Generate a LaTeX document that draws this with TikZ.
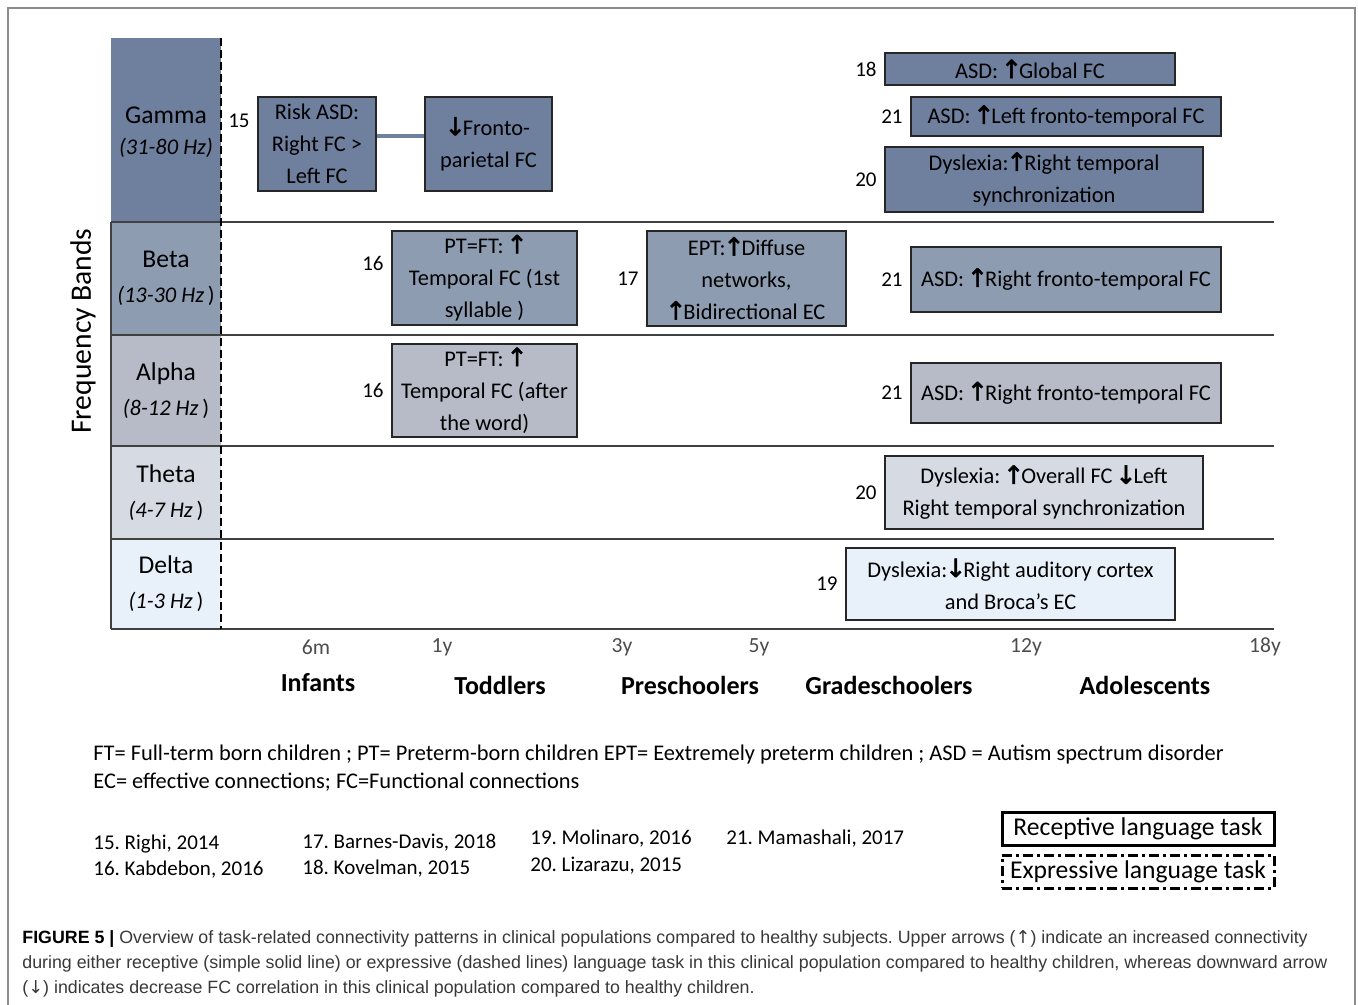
\documentclass[tikz,border=0pt]{standalone}
\usepackage{fontspec}
\setmainfont{Carlito}
\newfontfamily\arrowfont[FakeBold=2]{DejaVu Sans}
\newfontfamily\thinarrow{DejaVu Sans}
\newfontfamily\capfont{Liberation Sans}
\usetikzlibrary{positioning}
\frenchspacing

\definecolor{gammac}{HTML}{6F7F9E}
\definecolor{betac}{HTML}{8E9CB1}
\definecolor{alphac}{HTML}{B6BBC7}
\definecolor{thetac}{HTML}{D6DAE3}
\definecolor{deltac}{HTML}{E8F1FA}
\definecolor{rulec}{HTML}{404040}

\newcommand{\UpA}{{\kern-0.1em\arrowfont\fontsize{12.6pt}{16pt}\selectfont\char"2191\kern-0.12em}}
\newcommand{\DnA}{{\kern-0.1em\arrowfont\fontsize{12.6pt}{16pt}\selectfont\char"2193\kern-0.12em}}

\begin{document}
\begin{tikzpicture}[x=0.5pt, y=-0.5pt, node distance=3.5pt,
    band/.style = {fill=#1, minimum width=55pt, inner sep=0pt, align=center, font=\fontsize{12.8pt}{17.5pt}\selectfont},
    finding/.style 2 args = {draw=black!85, line width=1pt, minimum width=#1*0.5pt, minimum height=#2*0.5pt, inner sep=0pt, align=center, font=\fontsize{11.2pt}{16pt}\selectfont},
    refno/.style = {inner sep=0pt, font=\fontsize{10.5pt}{12pt}\selectfont},
    rule/.style = {rulec, line width=1pt},
    tick/.style = {black!70, font=\fontsize{10.8pt}{12pt}\selectfont},
    group/.style = {font=\fontsize{13pt}{14pt}\selectfont\bfseries},
    note/.style = {anchor=west, inner sep=0pt, align=left, font=\fontsize{10.5pt}{14pt}\selectfont},
    legend/.style = {draw, line width=1.5pt, minimum width=136pt, minimum height=16.5pt, inner sep=0pt, font=\fontsize{12.8pt}{14pt}\selectfont}]

    \useasboundingbox (0,0) rectangle (1358,1005);
    \draw[black!45, line width=0.8pt] (8,1005) -- (8,8) -- (1355,8) -- (1355,1005);

    \node[band=gammac, minimum height=92pt]   (gamma) at (166,132)   {Gamma\\[-2pt]{\fontsize{11.2pt}{14pt}\selectfont\textit{(31-80 Hz)}}};
    \node[band=betac,  minimum height=56.5pt] (beta)  at (166,278.5) {Beta\\{\fontsize{11.2pt}{14pt}\selectfont\textit{(13-30 Hz}\,)}};
    \node[band=alphac, minimum height=55.5pt] (alpha) at (166,390.5) {Alpha\\{\fontsize{11.2pt}{14pt}\selectfont\textit{(8-12 Hz}\,)}};
    \node[band=thetac, minimum height=46.5pt] (theta) at (166,492.5) {Theta\\{\fontsize{11.2pt}{14pt}\selectfont\textit{(4-7 Hz}\,)}};
    \node[band=deltac, minimum height=45pt]   (delta) at (166,584)   {Delta\\{\fontsize{11.2pt}{14pt}\selectfont\textit{(1-3 Hz}\,)}};
    \path[fill=gammac] (111,38) rectangle (221,48);

    \foreach \y in {222,335,446,539,629}
        \draw[rule] (111,\y) -- (1274,\y);
    \draw[rule] (111,222) -- (111,629);
    \draw[line width=1pt, dash pattern=on 4pt off 2pt] (221,38) -- (221,629);

    \node[rotate=90, font=\fontsize{14.8pt}{16pt}\selectfont] (axis) at (83,331) {Frequency Bands};

    \node[finding={118}{94}, fill=gammac] (r15) at (317,144)    {Risk ASD:\\Right FC >\\Left FC};
    \node[finding={127}{94}, fill=gammac] (fp)  at (488.5,144)  {\DnA Fronto-\\parietal FC};
    \node[finding={290}{32}, fill=gammac] (g18) at (1030,69)    {ASD: \UpA Global FC};
    \node[finding={310}{39}, fill=gammac] (g21) at (1066,116.5) {ASD: \UpA Left fronto-temporal FC};
    \node[finding={318}{65}, fill=gammac] (g20) at (1044,179.5) {Dyslexia:\UpA Right temporal\\synchronization};

    \node[finding={185}{94}, fill=betac] (b16) at (484.5,278)  {PT=FT: \UpA\\Temporal FC (1st\\syllable )};
    \node[finding={199}{95}, fill=betac] (b17) at (746.5,278.5) {EPT:\UpA Diffuse\\networks,\\\UpA Bidirectional EC};
    \node[finding={310}{65}, fill=betac] (b21) at (1066,279.5)  {ASD: \UpA Right fronto-temporal FC};

    \node[finding={185}{93}, fill=alphac] (a16) at (484.5,390.5) {PT=FT: \UpA\\Temporal FC (after\\the word)};
    \node[finding={310}{60}, fill=alphac] (a21) at (1066,393)    {ASD: \UpA Right fronto-temporal FC};

    \node[finding={318}{73}, fill=thetac] (t20) at (1044,492.5) {Dyslexia: \UpA Overall FC \DnA Left\\Right temporal synchronization};

    \node[finding={329}{72}, fill=deltac] (d19) at (1010.5,584) {Dyslexia:\DnA Right auditory cortex\\and Broca's EC};

    \draw[gammac, line width=2pt] ([yshift=4pt]r15.east) -- ([yshift=4pt]fp.west);

    \node[refno] (n15)  [left=of r15, yshift=11.5pt] {15};
    \node[refno] (n18)  [left=of g18] {18};
    \node[refno] (n21g) [left=of g21] {21};
    \node[refno] (n20g) [left=of g20] {20};
    \node[refno] (n16b) [left=of b16, yshift=7.5pt] {16};
    \node[refno] (n17)  [left=of b17] {17};
    \node[refno] (n21b) [left=of b21] {21};
    \node[refno] (n16a) [left=of a16] {16};
    \node[refno] (n21a) [left=of a21] {21};
    \node[refno] (n20t) [left=of t20] {20};
    \node[refno] (n19)  [left=of d19] {19};

    \foreach \t/\x in {6m/316, 1y/442, 3y/622, 5y/759, 12y/1026, 18y/1265}
        \node[tick] (t\t) at (\x,647) {\t};
    \foreach \g/\x/\y in {Infants/318/683, Toddlers/500/685, Preschoolers/690/685, Gradeschoolers/889/685, Adolescents/1145/685}
        \node[group] (\g) at (\x,\y) {\g};

    \node[note, font=\fontsize{11.2pt}{14pt}\selectfont] (abbr) at (93,768) {FT= Full-term born children ; PT= Preterm-born children EPT= Eextremely preterm children ; ASD = Autism spectrum disorder\\EC= effective connections; FC=Functional connections};

    \node[note] (c15) at (93,844)  {15. Righi, 2014};
    \node[note] (c16) at (93,870)  {16. Kabdebon, 2016};
    \node[note] (c17) at (302,843) {17. Barnes-Davis, 2018};
    \node[note] (c18) at (302,869) {18. Kovelman, 2015};
    \node[note] (c19) at (530,839) {19. Molinaro, 2016};
    \node[note] (c20) at (530,866) {20. Lizarazu, 2015};
    \node[note] (c21) at (726,839) {21. Mamashali, 2017};

    \node[legend] (recep) at (1138,828.5) {Receptive language task};
    \node[legend, dash pattern=on 5pt off 2pt on 1.5pt off 2pt] (expr) at (1138,871.5) {Expressive language task};

    \node[anchor=west, inner sep=0pt, align=left, text=black!78, font=\capfont\fontsize{8.9pt}{12.5pt}\selectfont] (caption) at (22,964)
        {{\color{black}\bfseries FIGURE 5 |} Overview of task-related connectivity patterns in clinical populations compared to healthy subjects. Upper arrows ({\thinarrow\char"2191}) indicate an increased connectivity\\during either receptive (simple solid line) or expressive (dashed lines) language task in this clinical population compared to healthy children, whereas downward arrow\\({\thinarrow\char"2193}) indicates decrease FC correlation in this clinical population compared to healthy children.};
\end{tikzpicture}
\end{document}
